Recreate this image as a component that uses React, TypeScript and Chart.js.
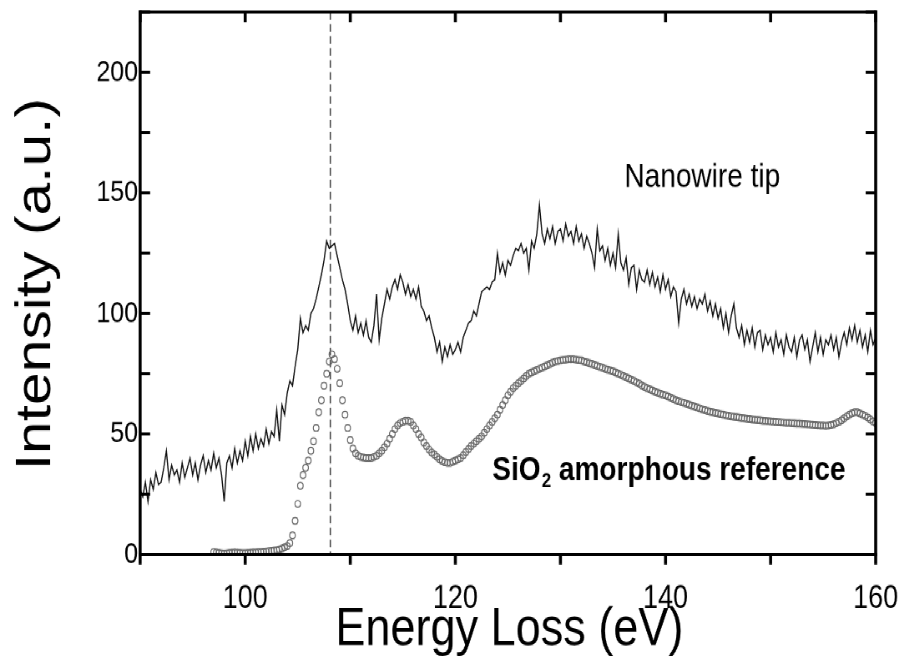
import { useEffect, useRef } from 'react';
import { Chart, registerables } from 'chart.js';

Chart.register(...registerables);

// ---- Data ----
const nanoStart = 90; // eV
const nanoStep = 0.25; // eV
const nanoIntensity = [
  27, 24, 30, 22, // 90
  31, 27, 34, 29, // 91
  30, 36, 43, 31, // 92
  37, 33, 35, 30, // 93
  38, 32, 36, 40, // 94
  33, 38, 31, 37, // 95
  41, 34, 39, 35, // 96
  42, 36, 40, 33, // 97
  22, 38, 41, 36, // 98
  44, 38, 43, 39, // 99
  47, 41, 49, 43, // 100
  50, 44, 48, 45, // 101
  52, 46, 51, 49, // 102
  60, 47, 62, 58, // 103
  67, 72, 70, 78, // 104
  85, 98, 92, 95, // 105
  93, 100, 102, 106, // 106
  111, 116, 122, 130, // 107
  127, 128, 129, 124, // 108
  119, 114, 110, 104, // 109
  97, 93, 99, 92, // 110
  96, 91, 97, 90, // 111
  88, 95, 108, 89, // 112
  98, 104, 110, 106, // 113
  111, 114, 110, 116, // 114
  113, 108, 112, 107, // 115
  110, 106, 111, 103, // 116
  101, 97, 99, 94, // 117
  90, 84, 88, 80, // 118
  86, 82, 87, 83, // 119
  85, 88, 84, 90, // 120
  93, 96, 97, 101, // 121
  99, 104, 109, 110, // 122
  111, 110, 113, 114, // 123
  125, 117, 121, 116, // 124
  122, 120, 124, 127, // 125
  126, 129, 125, 127, // 126
  118, 130, 127, 133, // 127
  145, 133, 129, 135, // 128
  131, 136, 129, 134, // 129
  135, 130, 137, 132, // 130
  134, 129, 136, 130, // 131
  133, 127, 132, 129, // 132
  125, 119, 135, 126, // 133
  128, 122, 127, 120, // 134
  125, 119, 133, 121, // 135
  118, 123, 112, 119, // 136
  120, 110, 118, 114, // 137
  113, 118, 112, 117, // 138
  111, 115, 109, 116, // 139
  110, 114, 107, 111, // 140
  109, 96, 106, 110, // 141
  104, 108, 103, 107, // 142
  102, 106, 104, 108, // 143
  101, 105, 99, 104, // 144
  98, 102, 94, 100, // 145
  92, 99, 104, 94, // 146
  90, 95, 87, 93, // 147
  88, 94, 86, 92, // 148
  93, 85, 91, 87, // 149
  90, 84, 92, 86, // 150
  89, 83, 91, 86, // 151
  84, 90, 82, 89, // 152
  91, 85, 89, 80, // 153
  86, 92, 84, 90, // 154
  83, 89, 87, 91, // 155
  85, 90, 82, 88, // 156
  92, 87, 94, 89, // 157
  95, 88, 93, 86, // 158
  91, 84, 93, 87, // 159
  90, // 160
];

const refStart = 97; // eV
const refStep = 0.25; // eV
const refIntensity = [
  1.0, 0.8, 0.6, 0.4, // 97
  0.3, 0.4, 0.6, 0.7, // 98
  0.8, 0.7, 0.6, 0.5, // 99
  0.5, 0.6, 0.7, 0.8, // 100
  0.8, 0.9, 1.0, 1.1, // 101
  1.2, 1.4, 1.5, 1.7, // 102
  1.8, 2.1, 2.5, 3.0, // 103
  3.5, 4.8, 8, 14, // 104
  21, 28.5, 33, 36, // 105
  39, 43, 47, 52.5, // 106
  59, 64, 70, 75, // 107
  80, 83, 81, 77, // 108
  71, 64, 58, 52.5, // 109
  47.5, 44, 42, 41, // 110
  40.5, 40.2, 40, 40, // 111
  40, 40.5, 41, 42, // 112
  43, 44.5, 46, 48, // 113
  50, 52, 53.5, 54.5, // 114
  55, 55.5, 55.5, 55, // 115
  53.5, 52, 50, 48.5, // 116
  46.5, 45, 43.5, 42.3, // 117
  41.5, 40.5, 39.5, 38.8, // 118
  38.3, 38, 38, 38.5, // 119
  39, 39.5, 40, 41.2, // 120
  42.5, 43.8, 45, 46, // 121
  47, 48, 49, 50.5, // 122
  52, 53.5, 55, 56.5, // 123
  58, 60, 62, 64, // 124
  66, 67.5, 69, 70, // 125
  71, 72, 73, 74, // 126
  75, 75.5, 76, 76.5, // 127
  77, 77.5, 78, 78.5, // 128
  79, 79.5, 80, 80.2, // 129
  80.5, 80.7, 80.8, 81, // 130
  81, 81, 80.8, 80.6, // 131
  80.5, 80, 79.7, 79.3, // 132
  79, 78.6, 78.2, 77.8, // 133
  77.5, 77, 76.6, 76.3, // 134
  76, 75.5, 75, 74.5, // 135
  74, 73.5, 73, 72.5, // 136
  72, 71.4, 70.8, 70.1, // 137
  69.5, 69, 68.5, 68, // 138
  67.5, 67.1, 66.7, 66.3, // 139
  66, 65.5, 65, 64.5, // 140
  64, 63.6, 63.2, 62.9, // 141
  62.5, 62.1, 61.7, 61.4, // 142
  61, 60.6, 60.2, 59.9, // 143
  59.5, 59.2, 59, 58.7, // 144
  58.5, 58.2, 58, 57.7, // 145
  57.5, 57.3, 57.1, 57, // 146
  56.8, 56.6, 56.5, 56.3, // 147
  56.2, 56, 55.9, 55.8, // 148
  55.7, 55.5, 55.4, 55.3, // 149
  55.2, 55.1, 55, 54.9, // 150
  54.8, 54.7, 54.6, 54.6, // 151
  54.5, 54.4, 54.3, 54.3, // 152
  54.2, 54.1, 54, 53.9, // 153
  53.8, 53.7, 53.6, 53.5, // 154
  53.5, 53.4, 53.5, 53.7, // 155
  54, 54.5, 55, 55.7, // 156
  56.5, 57.3, 58, 58.6, // 157
  59, 59, 58.5, 58, // 158
  57.5, 56.8, 56, 55.2, // 159
  54.5, // 160
];

const xTickLabels = [100, 120, 140, 160];
const yTickLabels = [0, 50, 100, 150, 200];
const peakEnergy = 108.1;

const xTitle = 'Energy Loss (eV)';
const yTitle = 'Intensity (a.u.)';
const nanoLabel = 'Nanowire tip';
const refLabelMain = 'SiO';
const refLabelSub = '2';
const refLabelRest = ' amorphous reference';

// ---- Layout ----
const W = 899;
const CH = 548; // drawn height, stretched vertically to 657
const STRETCH = 657 / CH;
const FONT = '"Liberation Sans", Arial, Helvetica, sans-serif';

const framePlugin = {
  id: 'framePlugin',
  beforeDatasetsDraw(chart: any) {
    const { ctx, chartArea: a, scales } = chart;
    const px = scales.x.getPixelForValue(peakEnergy);
    ctx.save();
    ctx.strokeStyle = '#3c3c3c';
    ctx.lineWidth = 1.3;
    ctx.setLineDash([6.5, 3.5]);
    ctx.beginPath();
    ctx.moveTo(px, a.top);
    ctx.lineTo(px, a.bottom);
    ctx.stroke();
    ctx.restore();
  },
  afterDraw(chart: any) {
    const { ctx, chartArea: a, scales } = chart;
    const xs = scales.x;
    const ys = scales.y;
    const vw = 3; // vertical stroke width
    const hw = 2.5; // horizontal stroke width (stretched later)
    ctx.save();
    ctx.fillStyle = '#000';
    // x ticks: bottom outward, top inward
    xs.ticks.forEach((t: any) => {
      const p = xs.getPixelForValue(t.value);
      ctx.fillRect(p - vw / 2, a.bottom, vw, 8.5);
      ctx.fillRect(p - vw / 2, a.top, vw, 8.5);
    });
    // y ticks: inward on both sides
    ys.ticks.forEach((t: any) => {
      const p = ys.getPixelForValue(t.value);
      ctx.fillRect(a.left, p - hw / 2, 10, hw);
      ctx.fillRect(a.right - 10, p - hw / 2, 10, hw);
    });
    // frame
    ctx.fillRect(a.left - vw / 2, a.top - hw / 2, vw, a.bottom - a.top + hw);
    ctx.fillRect(a.right - vw / 2, a.top - hw / 2, vw, a.bottom - a.top + hw);
    ctx.fillRect(a.left - vw / 2, a.top - hw / 2, a.right - a.left + vw, hw);
    ctx.fillRect(a.left - vw / 2, a.bottom - hw / 2, a.right - a.left + vw, hw);

    // texts
    ctx.textBaseline = 'alphabetic';
    // y title
    ctx.save();
    ctx.translate(50, 237);
    ctx.rotate(-Math.PI / 2);
    ctx.textAlign = 'center';
    ctx.font = `49px ${FONT}`;
    ctx.fillText(yTitle, 0, 0);
    ctx.restore();
    // x title
    ctx.textAlign = 'center';
    ctx.font = `45px ${FONT}`;
    ctx.fillText(xTitle, 509, 538);
    // annotations
    ctx.textAlign = 'left';
    ctx.font = `28px ${FONT}`;
    ctx.fillText(nanoLabel, 624, 156);
    ctx.font = `bold 28px ${FONT}`;
    let x = 492;
    const base = 400;
    ctx.fillText(refLabelMain, x, base);
    x += ctx.measureText(refLabelMain).width + 1;
    ctx.font = `bold 17px ${FONT}`;
    ctx.fillText(refLabelSub, x, base + 6);
    x += ctx.measureText(refLabelSub).width;
    ctx.font = `bold 28px ${FONT}`;
    ctx.fillText(refLabelRest, x, base);
    ctx.restore();
  },
};

export default function App() {
  const ref = useRef<HTMLCanvasElement | null>(null);

  useEffect(() => {
    if (!ref.current) return;
    const nanoData = nanoIntensity.map((v, i) => ({ x: nanoStart + i * nanoStep, y: v }));
    const refData = refIntensity.map((v, i) => ({ x: refStart + i * refStep, y: v }));

    const chart = new Chart(ref.current, {
      type: 'scatter',
      data: {
        datasets: [
          {
            label: nanoLabel,
            data: nanoData,
            showLine: true,
            borderColor: '#0e0e0e',
            borderWidth: 1.2,
            pointRadius: 0,
            tension: 0,
          },
          {
            label: 'SiO2 amorphous reference',
            data: refData,
            showLine: false,
            pointRadius: 2.8,
            pointBorderWidth: 1,
            pointBorderColor: '#666666',
            pointBackgroundColor: 'rgba(255,255,255,0)',
          },
        ],
      },
      options: {
        animation: false,
        responsive: false,
        devicePixelRatio: STRETCH,
        events: [],
        layout: { padding: { top: 10, right: 24, left: 0, bottom: 0 } },
        plugins: { legend: { display: false }, tooltip: { enabled: false } },
        scales: {
          x: {
            type: 'linear',
            min: 90,
            max: 160,
            afterFit: (s: any) => {
              s.height = 85.5;
              s.paddingLeft = 0;
              s.paddingRight = 0;
              s.paddingTop = 0;
              s.paddingBottom = 0;
            },
            grid: { display: false, drawTicks: false },
            border: { display: false },
            ticks: {
              stepSize: 10,
              autoSkip: false,
              maxRotation: 0,
              padding: 21,
              color: '#000',
              font: { family: FONT, size: 27 },
              callback: (v: any) => (xTickLabels.includes(Number(v)) ? String(v) : ''),
            },
          },
          y: {
            type: 'linear',
            min: 0,
            max: 225,
            afterFit: (s: any) => {
              s.width = 140;
              s.paddingLeft = 0;
              s.paddingRight = 0;
              s.paddingTop = 0;
              s.paddingBottom = 0;
            },
            grid: { display: false, drawTicks: false },
            border: { display: false },
            ticks: {
              stepSize: 25,
              autoSkip: false,
              padding: 2,
              color: '#000',
              font: { family: FONT, size: 25 },
              callback: (v: any) => (yTickLabels.includes(Number(v)) ? String(v) : ''),
            },
          },
        },
      },
      plugins: [framePlugin],
    });
    return () => chart.destroy();
  }, []);

  return (
    <div
      style={{
        position: 'absolute',
        left: 0,
        top: 0,
        width: W,
        height: CH,
        transform: `scaleY(${STRETCH})`,
        transformOrigin: '0 0',
        background: '#fff',
      }}
    >
      <canvas
        ref={ref}
        width={W}
        height={CH}
        style={{ display: 'block', width: `${W}px`, height: `${CH}px` }}
      />
    </div>
  );
}
